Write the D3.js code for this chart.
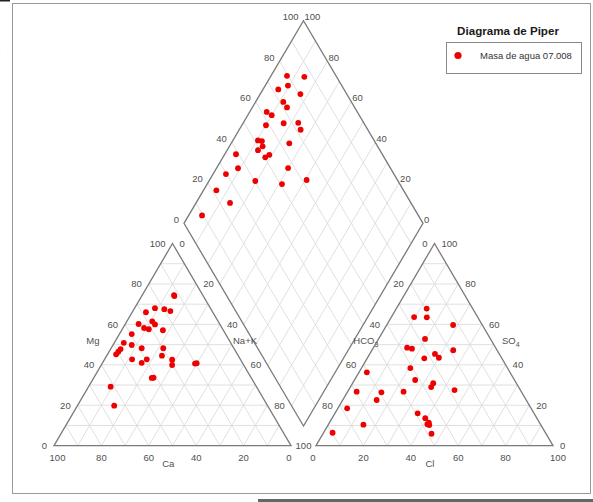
<!DOCTYPE html>
<html><head><meta charset="utf-8">
<script src="https://cdn.jsdelivr.net/npm/d3@7/dist/d3.min.js"></script>
<style>
html,body{margin:0;padding:0;background:#fff;}
svg{display:block;font-family:"Liberation Sans",Arial,sans-serif;}
</style></head>
<body>
<svg id="chart" width="593" height="502"></svg>
<script>
// ---- data (percent of meq) ----
const tickValues = [0, 20, 40, 60, 80, 100];
const gridValues = [10, 20, 30, 40, 50, 60, 70, 80, 90];

// cation triangle
const cationMg  = [74.5,74.0,66.0,68.0,67.5,66.6,60.2,61.5,60.0,58.2,57.6,57.1,55.2,50.9,49.8,48.2,48.2,47.8,46.5,45.2,44.5,42.7,42.7,41.0,42.5,39.9,40.8,40.6,33.5,33.6,29.2,19.8];
const cationNaK = [13.4,13.8, 5.8, 8.6,12.8,15.8, 5.6,10.7,12.6, 8.9,11.2,17.4, 5.2, 4.0, 7.9,12.9,22.0, 4.2, 3.9, 3.6,23.3,11.6,17.8,16.5,28.6,29.9,39.8,39.2,24.5,25.2, 9.3,15.5];

// anion triangle
const anionSO4 = [67.8,63.6,63.5,59.7,52.8,48.5,48.0,47.2,45.4,43.5,43.2,38.4,36.3,32.5,30.9,29.0,27.5,26.7,26.4,26.7,22.6,18.5,16.0,13.6,11.4,10.2,10.6,10.4,6.4,5.9];
const anionCl  = [12.8, 9.6,15.0,28.0,19.6,14.2,16.5,34.3,27.5,30.1,24.1,20.6, 3.3,25.6,34.0,34.1,44.7, 3.8,14.4,23.6,14.3, 3.9,34.9,39.3,41.9,42.7,41.7,14.8,3.8,45.8];

// diamond
const diamondCaMg  = [93.3,85.8,90.5,93.6,83.2,88.4,85.5,92.9,90.0,89.9,83.0,77.0,74.3,89.5,87.7,86.1,87.1,75.7,95.3,82.3,81.2,91.0,70.1,94.6,80.6,68.7,59.4,94.6,85.8,94.4];
const diamondSO4Cl = [79.5,86.5,77.5,72.5,80.6,71.5,71.7,62.1,63.4,58.5,66.4,72.6,71.9,51.4,52.9,51.9,49.0,63.8,38.8,50.3,52.6,36.2,57.2,29.7,40.3,50.7,62.0,21.7,24.3, 9.5];

const legendTitle = "Diagrama de Piper";
const seriesName = "Masa de agua 07.008";

// ---- scales ----
const cx = d3.scaleLinear().domain([0,100]).range([54,291]);     // cation triangle horizontal
const ax = d3.scaleLinear().domain([0,100]).range([316,553]);    // anion triangle horizontal
const ty = d3.scaleLinear().domain([0,100]).range([445.7,243.5]); // triangle height
const dx = d3.scaleLinear().domain([-100,100]).range([184,423]); // diamond horizontal
const dy = d3.scaleLinear().domain([0,200]).range([426,20.7]);   // diamond vertical

const cat = (n,m) => [cx(n + m/2), ty(m)];
const an  = (c,s) => [ax(c + s/2), ty(s)];
const dia = (p,q) => [dx(q - p), dy(p + q)];

const svg = d3.select("#chart");
const AXIS = "#7a7a7a", GRID = "#dcdcdc", TXT = "#505050", RED = "#ee0000";
const FS = 9.5;

// frame
svg.append("rect").attr("x",12.5).attr("y",3.5).attr("width",578).attr("height",490)
  .attr("fill","none").attr("stroke","#999").attr("stroke-width",1);
svg.append("rect").attr("x",258).attr("y",499).attr("width",335).attr("height",3).attr("fill","#666");
svg.append("rect").attr("x",0).attr("y",0).attr("width",10).attr("height",1.5).attr("fill","#222");
svg.append("text").attr("x",-5).attr("y",56).attr("font-size",17).attr("fill","#111").text(")");

const line = (a,b,color,w) => svg.append("line")
  .attr("x1",a[0]).attr("y1",a[1]).attr("x2",b[0]).attr("y2",b[1])
  .attr("stroke",color).attr("stroke-width",w);

// grids
gridValues.forEach(k => {
  line(cat(0,k), cat(100-k,k), GRID, 0.9);
  line(cat(k,0), cat(k,100-k), GRID, 0.9);
  line(cat(100-k,0), cat(0,100-k), GRID, 0.9);
  line(an(0,k), an(100-k,k), GRID, 0.9);
  line(an(k,0), an(k,100-k), GRID, 0.9);
  line(an(100-k,0), an(0,100-k), GRID, 0.9);
  line(dia(k,0), dia(k,100), GRID, 0.9);
  line(dia(0,k), dia(100,k), GRID, 0.9);
});

// outlines
const poly = pts => svg.append("polygon").attr("points", pts.map(p=>p.join(",")).join(" "))
  .attr("fill","none").attr("stroke",AXIS).attr("stroke-width",1.3).attr("stroke-linejoin","miter");
poly([cat(0,0), cat(100,0), cat(0,100)]);
poly([an(0,0), an(100,0), an(0,100)]);
poly([dia(0,0), dia(100,0), dia(100,100), dia(0,100)]);

// tick labels
const label = (x,y,t,anchor) => svg.append("text").attr("x",x).attr("y",y).attr("dy","0.35em")
  .attr("text-anchor",anchor).attr("font-size",FS).attr("fill",TXT).text(t);

tickValues.forEach(t => {
  let p = cat(0,t); label(p[0]-7, p[1], t, "end");                 // Mg
  if (t < 100) { p = cat(t,100-t); label(p[0]+7, p[1], t, "start"); } // Na+K
  const cShift = t === 100 ? 3.5 : (t === 0 ? -2 : 0);
  label(cx(100-t) + cShift, 457.3, t, "middle");                    // Ca
  p = an(0,100-t);                                                  // HCO3
  if (t === 100) label((cat(100,0)[0] + p[0]) / 2, p[1], t, "middle"); // shared corner "100"
  else label(p[0]-7, p[1], t, "end");
  p = an(100-t,t); label(p[0]+7, p[1], t, "start");                 // SO4
  const aShift = t === 100 ? 5 : (t === 0 ? -3 : 0);
  label(ax(t) + aShift, 457.3, t, "middle");                        // Cl
  p = dia(100,t); label(p[0]-5, p[1]-4, t, "end");                  // diamond SO4+Cl
  p = dia(t,100); label(p[0]+1, p[1]-4, t, "start");                // diamond Ca+Mg
});

// axis titles
label(99.5, 341, "Mg", "end");
label(233, 341, "Na+K", "start");
label(168.3, 463.3, "Ca", "middle");
label(430, 463.3, "Cl", "middle");
const hco = svg.append("text").attr("x",353.3).attr("y",341).attr("dy","0.35em")
  .attr("font-size",FS).attr("fill",TXT);
hco.append("tspan").text("HCO");
hco.append("tspan").attr("font-size",7).attr("dy","3").text("3");
const so = svg.append("text").attr("x",502).attr("y",341).attr("dy","0.35em")
  .attr("font-size",FS).attr("fill",TXT);
so.append("tspan").text("SO");
so.append("tspan").attr("font-size",7).attr("dy","3").text("4");

// points
const R = 2.9;
svg.append("g").selectAll("circle").data(cationMg.map((m,i)=>cat(cationNaK[i], m)))
  .join("circle").attr("cx",d=>d[0]).attr("cy",d=>d[1]).attr("r",R).attr("fill",RED);
svg.append("g").selectAll("circle").data(anionSO4.map((s,i)=>an(anionCl[i], s)))
  .join("circle").attr("cx",d=>d[0]).attr("cy",d=>d[1]).attr("r",R).attr("fill",RED);
svg.append("g").selectAll("circle").data(diamondCaMg.map((p,i)=>dia(p, diamondSO4Cl[i])))
  .join("circle").attr("cx",d=>d[0]).attr("cy",d=>d[1]).attr("r",R).attr("fill",RED);

// legend
svg.append("text").attr("x",508).attr("y",35).attr("text-anchor","middle")
  .attr("font-size",11.6).attr("font-weight","bold").attr("fill","#1a1a1a").text(legendTitle);
svg.append("rect").attr("x",446.5).attr("y",42.5).attr("width",135).attr("height",31)
  .attr("fill","#fff").attr("stroke","#888").attr("stroke-width",1);
svg.append("circle").attr("cx",458).attr("cy",55.5).attr("r",3.6).attr("fill",RED);
svg.append("text").attr("x",480).attr("y",55.5).attr("dy","0.35em")
  .attr("font-size",FS).attr("fill","#333").text(seriesName);
</script>
</body></html>
